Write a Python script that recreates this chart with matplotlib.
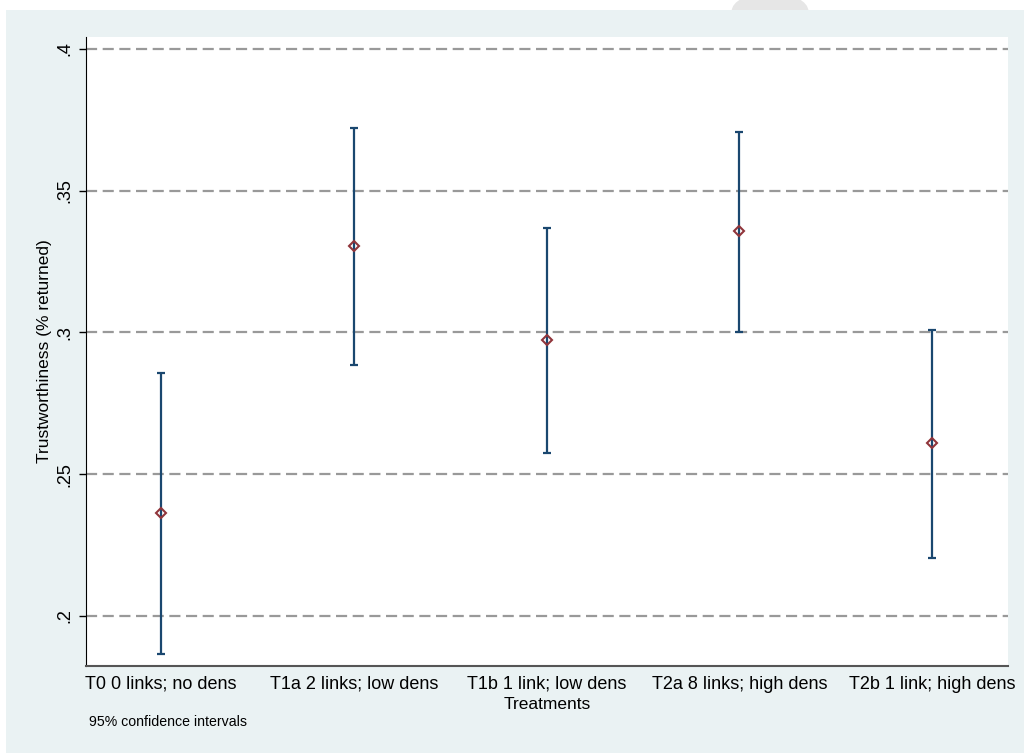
import matplotlib.pyplot as plt
from matplotlib.patches import Rectangle, Ellipse

plt.rcParams['font.family'] = ['Liberation Sans', 'DejaVu Sans']

treatments = ["T0 0 links; no dens", "T1a 2 links; low dens", "T1b 1 link; low dens",
              "T2a 8 links; high dens", "T2b 1 link; high dens"]
means = [0.2363, 0.3304, 0.2974, 0.3356, 0.2608]
ci_low = [0.1866, 0.2885, 0.2575, 0.3003, 0.2205]
ci_high = [0.2856, 0.3721, 0.3369, 0.3707, 0.3010]
yticks = [0.2, 0.25, 0.3, 0.35, 0.4]
ytick_labels = [".2", ".25", ".3", ".35", ".4"]

navy = "#1a476f"
maroon = "#90353b"
panel = "#eaf2f3"
fs = 13

fig = plt.figure(figsize=(10.24, 7.53), dpi=100)
fig.patch.set_facecolor("white")

# faint watermark shape peeking above the graph region
fig.patches.append(Ellipse((0.752, 0.985), 0.075, 0.05, transform=fig.transFigure,
                           facecolor="#e6e6e6", edgecolor="none", zorder=-3))
fig.patches.append(Rectangle((6 / 1024, 0), 1 - 6 / 1024, 1 - 10 / 753,
                             transform=fig.transFigure, facecolor=panel,
                             edgecolor="none", zorder=-2))

ax = fig.add_axes([86 / 1024, 1 - 666 / 753, 922 / 1024, 629 / 753])
ax.set_facecolor("white")

x = list(range(1, len(treatments) + 1))
for xi, m, lo, hi in zip(x, means, ci_low, ci_high):
    ax.errorbar([xi], [m], yerr=[[m - lo], [hi - m]], fmt="none", ecolor=navy,
                elinewidth=1.6, capsize=3, capthick=1.6, zorder=3)
ax.plot(x, means, linestyle="none", marker="D", markersize=5.5,
        markerfacecolor="none", markeredgecolor=maroon, markeredgewidth=1.5, zorder=4)

for yv in yticks:
    ax.axhline(yv, color="#999999", linestyle=(0, (5, 2.5)), linewidth=1.6, zorder=1)

ax.set_xlim(0.611, 5.394)
ax.set_ylim(0.1823, 0.4042)
ax.set_xticks(x)
ax.set_xticklabels(treatments, fontsize=fs)
ax.tick_params(axis="x", length=0, pad=7)
ax.set_yticks(yticks)
ax.set_yticklabels(ytick_labels, rotation=90, va="center", fontsize=fs)
ax.tick_params(axis="y", length=5, width=1, pad=4)

for s in ["top", "right"]:
    ax.spines[s].set_visible(False)
ax.spines["left"].set_color("black")
ax.spines["bottom"].set_color("#555555")
ax.spines["bottom"].set_linewidth(1.5)

ax.set_xlabel("Treatments", fontsize=12.5, labelpad=3)
ax.set_ylabel("Trustworthiness (% returned)", fontsize=12.5, va="center")
ax.yaxis.set_label_coords(-0.0445, 0.5)

fig.text(89 / 1024, 1 - 722 / 753, "95% confidence intervals", fontsize=10.2,
         va="center", ha="left")

fig.savefig("out.png", dpi=100)
